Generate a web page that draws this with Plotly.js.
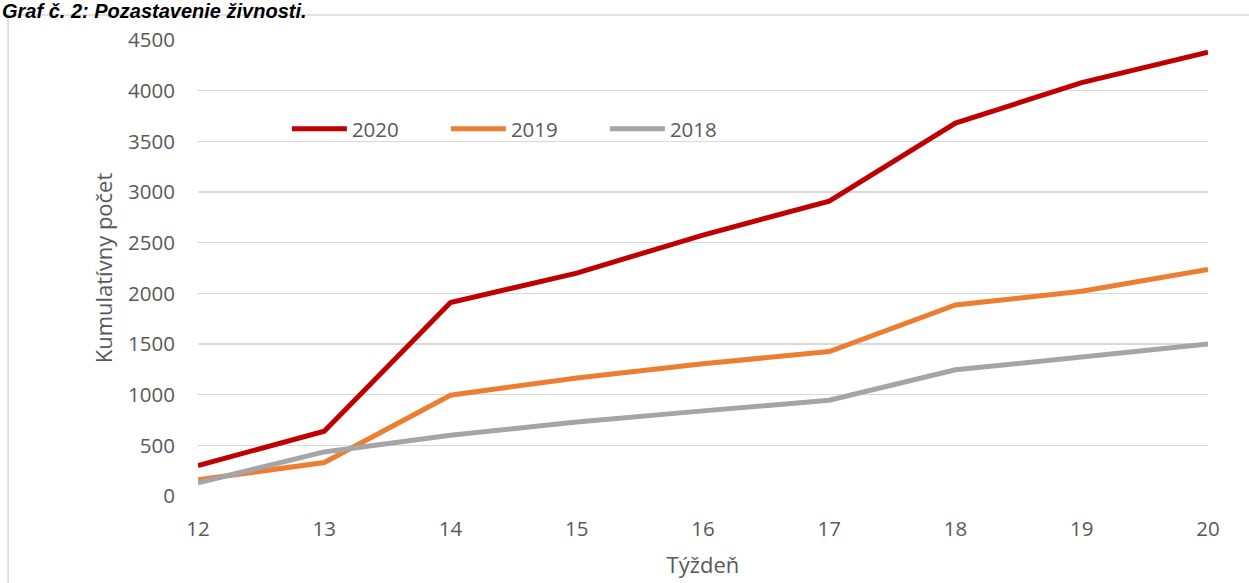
<!DOCTYPE html>
<html>
<head>
<meta charset="utf-8">
<script src="https://cdn.plot.ly/plotly-3.0.1.min.js"></script>
<style>html,body{margin:0;padding:0;background:#fff;}#chart{width:1249px;height:583px;}</style>
</head>
<body>
<div id="chart"></div>
<script>
const weeks = [12, 13, 14, 15, 16, 17, 18, 19, 20];
const series2020 = [300, 640, 1910, 2200, 2575, 2910, 3680, 4080, 4380];
const series2019 = [160, 330, 995, 1165, 1305, 1425, 1885, 2020, 2235];
const series2018 = [130, 435, 600, 730, 840, 945, 1245, 1370, 1500];
const seriesNames = ['2020', '2019', '2018'];
const seriesColors = ['#c00000', '#ed7d31', '#a5a5a5'];
const yTicks = [0, 500, 1000, 1500, 2000, 2500, 3000, 3500, 4000, 4500];
const chartTitle = 'Graf č. 2: Pozastavenie živnosti.';
const xTitle = 'Týždeň';
const yTitle = 'Kumulatívny počet';

const allSeries = [series2020, series2019, series2018];
const traces = allSeries.map((s, i) => ({
  x: weeks, y: s, type: 'scatter', mode: 'lines', name: seriesNames[i],
  line: {color: seriesColors[i], width: 5, shape: 'linear'}
}));

const tickFont = {family: 'Open Sans, sans-serif', size: 20.5, color: '#595959'};
const titleFont = {family: 'Open Sans, sans-serif', size: 22, color: '#595959'};

const layout = {
  width: 1249, height: 583,
  margin: {l: 198, r: 41, t: 40, b: 87},
  paper_bgcolor: '#ffffff', plot_bgcolor: '#ffffff',
  showlegend: true,
  legend: {
    orientation: 'h', x: 0.088, y: 0.805, xanchor: 'left', yanchor: 'middle',
    font: tickFont, itemwidth: 55, entrywidth: 89, entrywidthmode: 'pixels', bgcolor: 'rgba(0,0,0,0)'
  },
  xaxis: {
    range: [12, 20], tickvals: weeks, ticktext: weeks.map(String),
    showgrid: false, zeroline: false, showline: false, ticks: '',
    tickfont: tickFont, ticklabelstandoff: 18,
    title: {text: xTitle, font: titleFont, standoff: 17}
  },
  yaxis: {
    range: [0, 4500], tickvals: yTicks, ticktext: yTicks.map(String),
    showgrid: true, gridcolor: '#d9d9d9', gridwidth: 1.5, zeroline: false, showline: false, ticks: '',
    tickfont: tickFont, ticklabelstandoff: 22,
    title: {text: yTitle, font: titleFont, standoff: 9}
  },
  shapes: [{
    type: 'rect', xref: 'paper', yref: 'paper',
    x0: -0.188, x1: 1.2, y0: -0.3, y1: 1.0548,
    line: {color: '#d9d9d9', width: 1.5}, fillcolor: 'rgba(0,0,0,0)', layer: 'below'
  }],
  annotations: [{
    text: chartTitle, xref: 'paper', yref: 'paper',
    x: -0.196, y: 1.093, xanchor: 'left', yanchor: 'top', showarrow: false,
    font: {family: 'Liberation Sans, Arial, sans-serif', size: 20, color: '#000000', weight: 'bold', style: 'italic'}
  }]
};

Plotly.newPlot('chart', traces, layout, {displayModeBar: false, staticPlot: true});
</script>
</body>
</html>
